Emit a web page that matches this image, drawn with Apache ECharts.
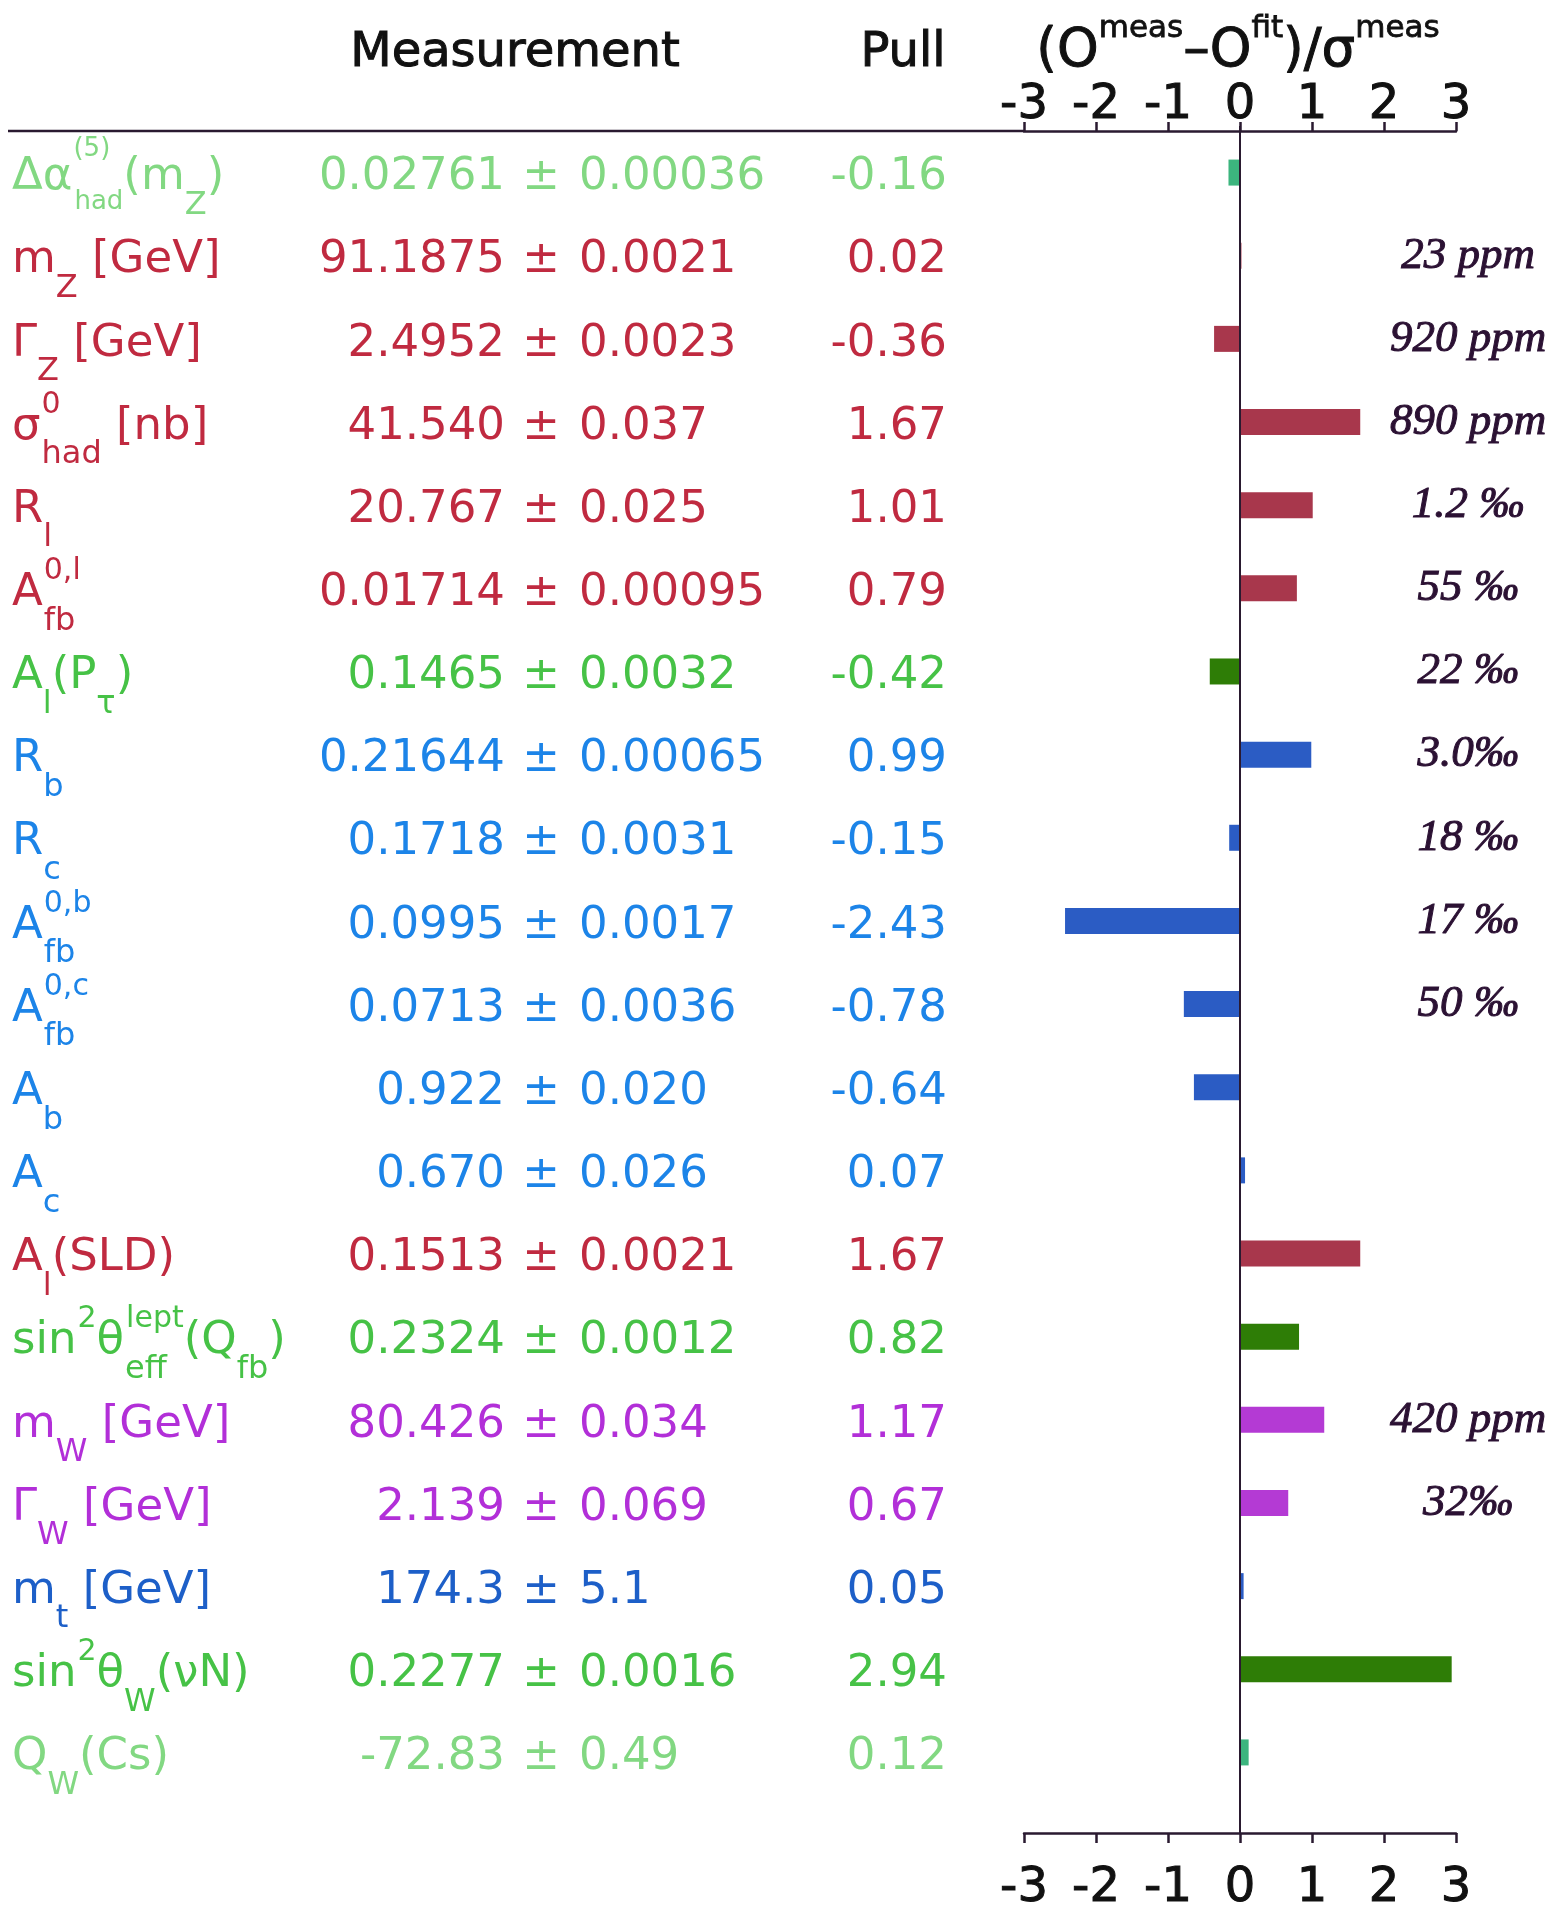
<!DOCTYPE html>
<html><head><meta charset="utf-8">
<script src="https://cdn.jsdelivr.net/npm/echarts@6/dist/echarts.min.js"></script>
<style>html,body{margin:0;padding:0;background:#fff}#c{width:1553px;height:1910px}</style>
</head><body><div id="c"></div>
<script>
// ---------------- data ----------------
const names = [
  '{M|Δα}{z|(5)}{s|had}{M|(m}{S|Z}{M|)}',
  '{M|m}{S|Z}{M| [GeV]}',
  '{M|Γ}{S|Z}{M| [GeV]}',
  '{M|σ}{Z|0}{S|had}{M| [nb]}',
  '{M|R}{S|l}',
  '{M|A}{Z|0,l}{S|fb}',
  '{M|A}{S|l}{M|(P}{S|τ}{M|)}',
  '{M|R}{S|b}',
  '{M|R}{S|c}',
  '{M|A}{Z|0,b}{S|fb}',
  '{M|A}{Z|0,c}{S|fb}',
  '{M|A}{S|b}',
  '{M|A}{S|c}',
  '{M|A}{S|l}{M|(SLD)}',
  '{M|sin}{U|2}{M|θ}{Y|eff}{U|lept}{M|(Q}{S|fb}{M|)}',
  '{M|m}{S|W}{M| [GeV]}',
  '{M|Γ}{S|W}{M| [GeV]}',
  '{M|m}{S|t}{M| [GeV]}',
  '{M|sin}{U|2}{M|θ}{S|W}{M|(νN)}',
  '{M|Q}{S|W}{M|(Cs)}'
];
const values = ['0.02761','91.1875','2.4952','41.540','20.767','0.01714','0.1465','0.21644','0.1718','0.0995','0.0713','0.922','0.670','0.1513','0.2324','80.426','2.139','174.3','0.2277','-72.83'];
const errors = ['0.00036','0.0021','0.0023','0.037','0.025','0.00095','0.0032','0.00065','0.0031','0.0017','0.0036','0.020','0.026','0.0021','0.0012','0.034','0.069','5.1','0.0016','0.49'];
const pulls = [-0.16, 0.02, -0.36, 1.67, 1.01, 0.79, -0.42, 0.99, -0.15, -2.43, -0.78, -0.64, 0.07, 1.67, 0.82, 1.17, 0.67, 0.05, 2.94, 0.12];
const groups = ['lg','r','r','r','r','r','g','b','b','b','b','b','b','r','g','p','p','db','g','lg'];
const notes = ['','23 ppm','920 ppm','890 ppm','1.2 ‰','55 ‰','22 ‰','3.0‰','18 ‰','17 ‰','50 ‰','','','','','420 ppm','32‰','','',''];
const tickLabels = ['-3','-2','-1','0','1','2','3'];
const zeroLine = [[0, 0], [0, 1]];

// ---------------- style ----------------
const FONT = 'DejaVu Sans';
const TXT = {lg:'#82d882', r:'#c02a40', g:'#46c246', b:'#1c84e8', db:'#1d5fc8', p:'#b22fd8'};
const BAR = {lg:'#3cb57e', r:'#a8374c', g:'#2e7d06', b:'#2b5cc4', db:'#2b5cc4', p:'#b43ad4'};
const INK = '#2a1a30';
const rich = {};
for (const k in TXT) {
  const c = TXT[k];
  rich[k+'M'] = {color:c, fontFamily:FONT, fontSize:45, padding:[10,0,0,0]};
  rich[k+'S'] = {color:c, fontFamily:FONT, fontSize:32, padding:[66,0,0,0]};
  rich[k+'U'] = {color:c, fontFamily:FONT, fontSize:30, padding:[0,0,34,1]};
  rich[k+'Z'] = {color:c, fontFamily:FONT, fontSize:30, padding:[0,0,34,1], width:0};
  rich[k+'Y'] = {color:c, fontFamily:FONT, fontSize:32, padding:[66,0,0,1], width:0};
  rich[k+'s'] = {color:c, fontFamily:FONT, fontSize:26, padding:[60,0,0,1]};
  rich[k+'z'] = {color:c, fontFamily:FONT, fontSize:26, padding:[0,0,46,1], width:0};
}
const tag = (i, s) => s.replace(/\{([MSUZYsz])\|/g, '{' + groups[i] + '$1|');
const GL = 1024, GW = 432;

function colAxis(margin, align, fmt) {
  return {
    type:'category', gridIndex:0, position:'left', inverse:true, data:names,
    axisLine:{show:false}, axisTick:{show:false}, splitLine:{show:false},
    axisLabel:{interval:0, margin:margin, align:align, rich:rich, formatter:fmt}
  };
}
const tickFont = {fontSize:48, fontFamily:FONT, color:'#111', textBorderColor:'#111', textBorderWidth:1};

const chart = echarts.init(document.getElementById('c'), null, {renderer:'canvas'});
chart.setOption({
  animation:false,
  backgroundColor:'#ffffff',
  textStyle:{fontFamily:FONT},
  grid:[
    {left:GL, width:GW, top:131, height:1663, outerBoundsMode:'none', containLabel:false},
    {left:GL, width:GW, top:126, height:1707, outerBoundsMode:'none', containLabel:false}
  ],
  xAxis:[
    {type:'value', gridIndex:0, position:'top', min:-3, max:3, interval:1,
     axisLine:{show:true, lineStyle:{color:INK, width:2.5}},
     axisTick:{show:true, length:9, lineStyle:{color:INK, width:2.5}},
     axisLabel:Object.assign({margin:1, formatter:(v,i)=>tickLabels[i]}, tickFont),
     splitLine:{show:false}},
    {type:'value', gridIndex:1, position:'bottom', min:-3, max:3, interval:1,
     axisLine:{show:true, onZero:false, lineStyle:{color:INK, width:2.5}},
     axisTick:{show:true, length:10, lineStyle:{color:INK, width:2.5}},
     axisLabel:Object.assign({margin:32, formatter:(v,i)=>tickLabels[i]}, tickFont),
     splitLine:{show:false}}
  ],
  yAxis:[
    colAxis(GL-12, 'left', (v,i)=>tag(i, names[i])),
    colAxis(GL-505, 'right', (v,i)=>'{'+groups[i]+'M|'+values[i]+'}'),
    colAxis(GL-541, 'center', (v,i)=>'{'+groups[i]+'M|±}'),
    colAxis(GL-579, 'left', (v,i)=>'{'+groups[i]+'M|'+errors[i]+'}'),
    colAxis(GL-947, 'right', (v,i)=>'{'+groups[i]+'M|'+pulls[i].toFixed(2)+'}'),
    {type:'category', gridIndex:0, position:'right', inverse:true, data:names,
     axisLine:{show:false}, axisTick:{show:false}, splitLine:{show:false},
     axisLabel:{interval:0, margin:12, align:'center', formatter:(v,i)=>notes[i],
       fontFamily:'Liberation Serif', fontStyle:'italic', fontSize:45, color:'#2b1133',
       textBorderColor:'#2b1133', textBorderWidth:1}},
    {type:'value', gridIndex:1, min:0, max:1, show:false}
  ],
  series:[
    {type:'bar', xAxisIndex:0, yAxisIndex:0, barWidth:26,
     data:pulls.map((v,i)=>({value:v, itemStyle:{color:BAR[groups[i]]}}))},
    {type:'line', xAxisIndex:1, yAxisIndex:6, data:zeroLine, symbol:'none',
     lineStyle:{color:INK, width:2}, z:5}
  ],
  graphic:[
    {type:'line', shape:{x1:8, y1:131, x2:GL, y2:131}, style:{stroke:INK, lineWidth:2.5}},
    {type:'text', x:515, y:54, style:{text:'Measurement', fontSize:48, fontFamily:FONT, fill:'#111', stroke:'#111', lineWidth:1, align:'center', verticalAlign:'middle'}},
    {type:'text', x:903, y:54, style:{text:'Pull', fontSize:48, fontFamily:FONT, fill:'#111', stroke:'#111', lineWidth:1, align:'center', verticalAlign:'middle'}},
    {type:'text', x:1238, y:52, style:{
      text:'{m|(O}{u|meas}{m|–O}{u|fit}{m|)/σ}{u|meas}', align:'center', verticalAlign:'middle',
      rich:{
        m:{fontSize:53, fontFamily:FONT, fill:'#111', stroke:'#111', lineWidth:1},
        u:{fontSize:31, fontFamily:FONT, fill:'#111', stroke:'#111', lineWidth:0.8, padding:[0,0,46,0]}
      }}}
  ]
});
</script></body></html>
